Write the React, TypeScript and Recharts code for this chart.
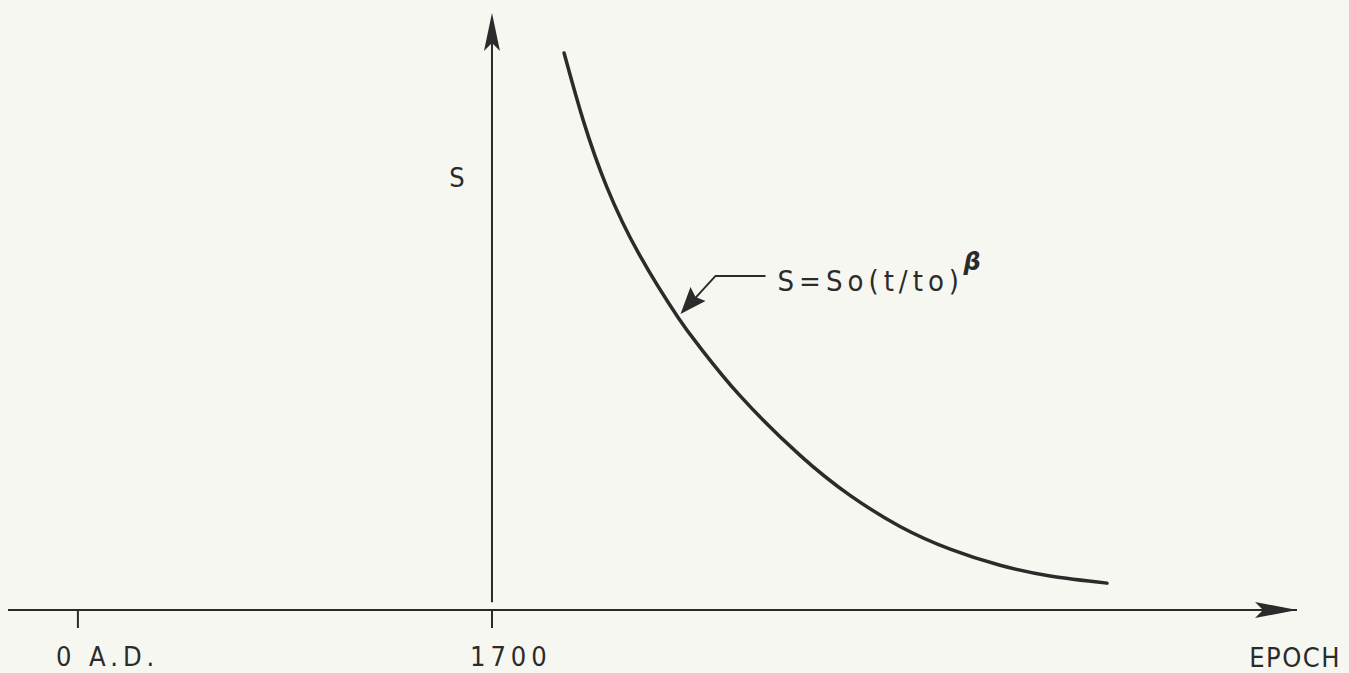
import React from "react";
import { LineChart, Line, XAxis, YAxis, ReferenceLine, ReferenceDot } from "recharts";

// Epoch (years) and S values
const years = [1996, 2074, 2172, 2308, 2464, 2554, 2718, 2965, 3170, 3375, 3581, 3786, 3991, 4225];
const sValues = [93.3, 82.1, 70.8, 59.3, 49.0, 44.0, 35.9, 25.9, 19.2, 14.0, 10.2, 7.5, 5.7, 4.5];
const tickYears = [0, 1700];
const tickLabels = ["0 A.D.", "1700"];
const xDomain: [number, number] = [-287, 5005];
const yDomain: [number, number] = [0, 100];
const axisYear = 1700;
const annotationPoint = { year: 2474, s: 49.6 };

const data = years.map((y, i) => ({ year: y, s: sValues[i] }));

const INK = "#2b2b2b";
const FONT = "'Liberation Sans Narrow', 'DejaVu Sans Condensed', 'DejaVu Sans', sans-serif";

const Tick = (props: any) => {
  const { x, y, payload } = props;
  const idx = tickYears.indexOf(payload.value);
  const label = idx >= 0 ? tickLabels[idx] : String(payload.value);
  return (
    <g>
      <line x1={x} y1={y} x2={x} y2={y + 18} stroke={INK} strokeWidth={2} />
      <text x={x - 22} y={y + 56} fill={INK} fontSize={27} fontFamily={FONT} letterSpacing={5} textAnchor="start">
        {label}
      </text>
    </g>
  );
};

const RightArrow = (props: any) => {
  const { cx, cy } = props;
  return (
    <g>
      <polygon points={`${cx},${cy} ${cx - 42},${cy - 8} ${cx - 34},${cy} ${cx - 42},${cy + 8}`} fill={INK} />
      <text x={cx + 44} y={cy + 57} fill={INK} fontSize={27} fontFamily={FONT} letterSpacing={1.5} textAnchor="end">
        EPOCH
      </text>
    </g>
  );
};

const UpArrow = (props: any) => {
  const { cx, cy } = props;
  return (
    <g>
      <polygon points={`${cx},${cy} ${cx - 8},${cy + 38} ${cx},${cy + 30} ${cx + 8},${cy + 38}`} fill={INK} />
      <text x={cx - 35} y={cy + 174} fill={INK} fontSize={27} fontFamily={FONT} textAnchor="middle">
        S
      </text>
    </g>
  );
};

const Annotation = (props: any) => {
  const { cx, cy } = props;
  // arrow tip at (cx, cy), pointing down-left onto the curve
  const bx = cx + 35;
  const by = cy - 38;
  return (
    <g>
      <polyline points={`${cx + 14},${cy - 15} ${bx},${by} ${bx + 50},${by}`} fill="none" stroke={INK} strokeWidth={2} />
      <polygon
        points={`${cx},${cy} ${cx + 10},${cy - 27} ${cx + 15},${cy - 17} ${cx + 25},${cy - 13}`}
        fill={INK}
      />
      <text x={bx + 62} y={by + 15} fill={INK} fontSize={29} fontFamily={FONT} letterSpacing={5}>
        S=So(t/to)
      </text>
      <text x={bx + 248} y={by - 6} fill={INK} fontSize={24} fontWeight="bold" fontStyle="italic" fontFamily="'DejaVu Sans', sans-serif">
        β
      </text>
    </g>
  );
};

export default function App() {
  return (
    <div style={{ position: "absolute", left: 0, top: 0, width: 1349, height: 673, background: "#f7f7f1" }}>
      <LineChart width={1349} height={673} data={data} margin={{ top: 13, right: 52, bottom: 0, left: 8 }}>
        <XAxis
          type="number"
          dataKey="year"
          domain={xDomain}
          ticks={tickYears}
          tick={<Tick />}
          tickLine={false}
          tickSize={0}
          tickMargin={0}
          height={63}
          axisLine={{ stroke: INK, strokeWidth: 2 }}
          allowDataOverflow
        />
        <YAxis type="number" domain={yDomain} hide />
        <ReferenceLine
          segment={[
            { x: axisYear, y: 1.3 },
            { x: axisYear, y: yDomain[1] - 5 },
          ]}
          stroke={INK}
          strokeWidth={2}
          ifOverflow="visible"
        />
        <ReferenceDot x={xDomain[1]} y={0} r={0} shape={<RightArrow />} ifOverflow="visible" />
        <ReferenceDot x={axisYear} y={yDomain[1]} r={0} shape={<UpArrow />} ifOverflow="visible" />
        <Line
          type="natural"
          dataKey="s"
          stroke={INK}
          strokeWidth={3.5}
          dot={false}
          strokeLinecap="round"
          isAnimationActive={false}
        />
        <ReferenceDot x={annotationPoint.year} y={annotationPoint.s} r={0} shape={<Annotation />} ifOverflow="visible" />
      </LineChart>
    </div>
  );
}
